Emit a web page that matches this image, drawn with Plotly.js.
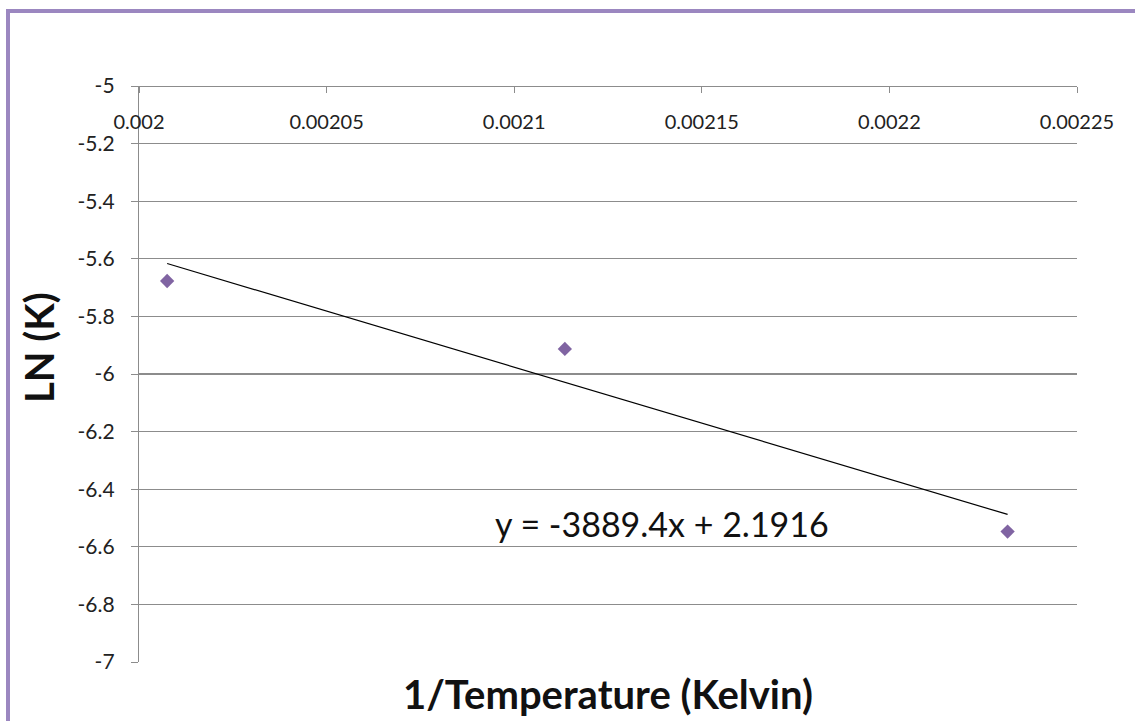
<!DOCTYPE html>
<html>
<head>
<meta charset="utf-8">
<script src="https://cdn.plot.ly/plotly-3.0.1.min.js"></script>
<style>html,body{margin:0;padding:0;background:#fff;}#chart{width:1135px;height:721px;}</style>
</head>
<body>
<div id="chart"></div>
<script>
// Data
const invTemp = [0.0020075, 0.0021135, 0.0022315];
const lnK = [-5.677, -5.913, -6.547];
// Linear trendline reported on the chart
const slope = -3889.4;
const intercept = 2.1916;
const equationText = 'y = -3889.4x + 2.1916';
// Axis ticks
const xTickVals = [0.002, 0.00205, 0.0021, 0.00215, 0.0022, 0.00225];
const xTickText = ['0.002', '0.00205', '0.0021', '0.00215', '0.0022', '0.00225'];
const yTickVals = [-5, -5.2, -5.4, -5.6, -5.8, -6, -6.2, -6.4, -6.6, -6.8, -7];
const yTickText = ['-5', '-5.2', '-5.4', '-5.6', '-5.8', '-6', '-6.2', '-6.4', '-6.6', '-6.8', '-7'];
const xTitle = '1/Temperature (Kelvin)';
const yTitle = 'LN (K)';

const xMin = Math.min(...invTemp), xMax = Math.max(...invTemp);
const trendX = [xMin, xMax];
const trendY = trendX.map(x => slope * x + intercept);

const FONT = 'Lato, "Open Sans", sans-serif';

const traces = [
  {
    x: trendX, y: trendY, type: 'scatter', mode: 'lines',
    line: {color: '#000000', width: 1.2},
    hoverinfo: 'skip', showlegend: false
  },
  {
    x: invTemp, y: lnK, type: 'scatter', mode: 'markers',
    marker: {symbol: 'diamond', size: 11, color: '#8064A2'},
    showlegend: false
  }
];

const layout = {
  width: 1135, height: 721,
  margin: {l: 139, r: 58, t: 86, b: 59, pad: 0},
  paper_bgcolor: '#ffffff', plot_bgcolor: '#ffffff',
  font: {family: FONT, color: '#222222'},
  showlegend: false,
  xaxis: {
    range: [0.002, 0.00225],
    side: 'bottom', anchor: 'free', position: 1,
    tickvals: xTickVals, ticktext: xTickText,
    ticks: 'outside', ticklen: 6, tickcolor: '#8c8c8c', tickwidth: 1,
    ticklabelstandoff: 12,
    tickfont: {family: FONT, size: 20, color: '#222222'},
    showgrid: false, zeroline: false,
    showline: true, linecolor: '#8c8c8c', linewidth: 1.2
  },
  yaxis: {
    range: [-7, -5],
    tickvals: yTickVals, ticktext: yTickText,
    ticks: 'outside', ticklen: 7, tickcolor: '#8c8c8c', tickwidth: 1,
    ticklabelstandoff: 12,
    tickfont: {family: FONT, size: 21, color: '#222222'},
    showgrid: true, gridcolor: '#8c8c8c', gridwidth: 1.2,
    zeroline: false,
    showline: true, linecolor: '#8c8c8c', linewidth: 1.2
  },
  annotations: [
    {text: equationText, xref: 'paper', yref: 'paper',
     x: (662 - 139) / 938, y: (662 - 523) / 576, xanchor: 'center', yanchor: 'middle',
     showarrow: false, font: {family: FONT, size: 34, color: '#111111'}},
    {text: '<b>' + xTitle + '</b>', xref: 'paper', yref: 'paper',
     x: 0.5, y: (662 - 694) / 576, xanchor: 'center', yanchor: 'middle',
     showarrow: false, font: {family: FONT, size: 40, color: '#111111'}},
    {text: '<b>' + yTitle + '</b>', xref: 'paper', yref: 'paper',
     x: (39 - 139) / 938, y: (662 - 348) / 576, xanchor: 'center', yanchor: 'middle',
     textangle: -90,
     showarrow: false, font: {family: FONT, size: 40, color: '#111111'}}
  ],
  shapes: [
    {type: 'rect', xref: 'paper', yref: 'paper',
     x0: (8 - 139) / 938, x1: 1.2, y0: -0.3, y1: 1 + (86 - 11) / 576,
     line: {color: '#9B87C0', width: 4}, fillcolor: 'rgba(0,0,0,0)', layer: 'below'}
  ]
};

Plotly.newPlot('chart', traces, layout, {displayModeBar: false, staticPlot: true});
</script>
</body>
</html>
